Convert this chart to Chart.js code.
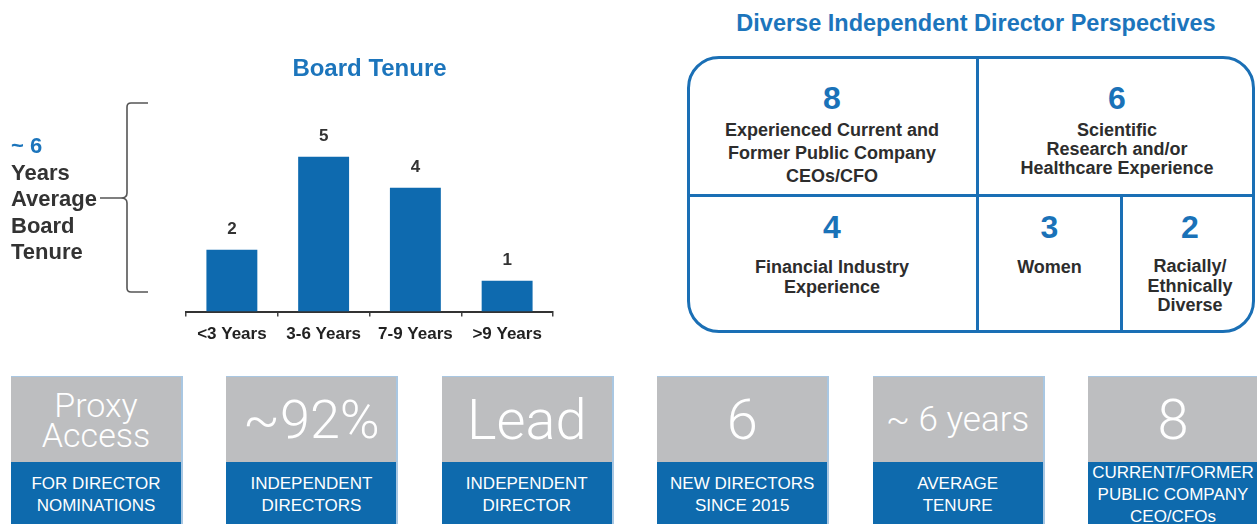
<!DOCTYPE html>
<html>
<head>
<meta charset="utf-8">
<script src="https://cdn.jsdelivr.net/npm/chart.js@4.4.1/dist/chart.umd.min.js"></script>
<style>
    html, body {
        margin: 0;
        padding: 0;
        background: #fff;
    }
    body {
        position: relative;
        width: 1257px;
        height: 524px;
        overflow: hidden;
        font-family: "Liberation Sans", Arial, Helvetica, sans-serif;
        color: #2d2d2d;
    }
    .abs { position: absolute; }
    #tenureWrap {
        position: absolute;
        left: 150px;
        top: 43px;
        width: 446px;
        height: 310px;
    }
    #avgText {
        left: 11px;
        top: 133px;
        font-weight: bold;
        font-size: 22px;
        line-height: 26.5px;
        color: #333;
    }
    #avgText .blue { color: #1c75bc; }
    #perspTitle {
        left: 687px;
        width: 578px;
        top: 10px;
        text-align: center;
        font-weight: bold;
        font-size: 23.5px;
        color: #1c75bc;
    }
    .box {
        left: 687px;
        top: 56px;
        width: 568px;
        height: 277px;
        box-sizing: border-box;
        border: 3px solid #1a6fb5;
        border-radius: 32px;
    }
    .divider { background: #1a6fb5; }
    .cellNum {
        text-align: center;
        font-weight: bold;
        font-size: 32px;
        line-height: 34px;
        color: #1a72b8;
    }
    .cellText {
        text-align: center;
        font-weight: bold;
        font-size: 18px;
        color: #2d2d2d;
    }
    .tile {
        position: absolute;
        top: 376px;
        width: 172px;
        height: 160px;
        box-sizing: border-box;
        border-top: 1px solid #a9c7e2;
        border-right: 2px solid #a9c7e2;
    }
    .tileHead {
        height: 85px;
        background: #bdbec0;
        color: #fff;
        display: flex;
        align-items: center;
        justify-content: center;
        text-align: center;
        white-space: nowrap;
        font-family: Roboto, "Liberation Sans", Arial, sans-serif;
        font-weight: 300;
    }
    .tileCap {
        height: 75px;
        background: #0e6aad;
        color: #fff;
        font-size: 17px;
        line-height: 22px;
        text-align: center;
        white-space: nowrap;
        display: flex;
        flex-direction: column;
        justify-content: flex-start;
        align-items: center;
    }
</style>
</head>
<body>

<div id="tenureWrap"><canvas id="tenureChart"></canvas></div>

<svg class="abs" style="left:0;top:0" width="200" height="320">
    <path d="M148,103 H131 Q127,103 127,107 V193 Q127,198 121,198 H100 M121,198 Q127,198 127,203 V288 Q127,292 131,292 H148"
          fill="none" stroke="#555" stroke-width="1.6"/>
</svg>
<div id="avgText" class="abs"><span class="blue">~ 6</span><br>Years<br>Average<br>Board<br>Tenure</div>

<div id="perspTitle" class="abs">Diverse Independent Director Perspectives</div>
<div class="abs box"></div>
<div class="abs divider" style="left:976px;top:56px;width:3px;height:277px"></div>
<div class="abs divider" style="left:687px;top:194px;width:568px;height:3px"></div>
<div class="abs divider" style="left:1120px;top:194px;width:3px;height:139px"></div>
<div id="cells"></div>

<div id="tiles"></div>

<script>
    // board tenure bar chart
    const tenureLabels = ['<3 Years', '3-6 Years', '7-9 Years', '>9 Years'];
    const tenureCounts = [2, 5, 4, 1];

    // director perspectives box
    const perspNumbers = ['8', '6', '4', '3', '2'];
    const perspTexts = [
        ['Experienced Current and', 'Former Public Company', 'CEOs/CFO'],
        ['Scientific', 'Research and/or', 'Healthcare Experience'],
        ['Financial Industry', 'Experience'],
        ['Women'],
        ['Racially/', 'Ethnically', 'Diverse']
    ];

    // bottom highlight tiles
    const tileHeadlines = [['Proxy', 'Access'], ['~92%'], ['Lead'], ['6'], ['~ 6 years'], ['8']];
    const tileCaptions = [
        ['FOR DIRECTOR', 'NOMINATIONS'],
        ['INDEPENDENT', 'DIRECTORS'],
        ['INDEPENDENT', 'DIRECTOR'],
        ['NEW DIRECTORS', 'SINCE 2015'],
        ['AVERAGE', 'TENURE'],
        ['CURRENT/FORMER', 'PUBLIC COMPANY', 'CEO/CFOs']
    ];

    const FONT = '"Liberation Sans", Arial, Helvetica, sans-serif';

    // layout for the box cells: left, width, number top, text top, line height
    const cellLayout = [
        [687, 290, 81, 118.5, 23],
        [979, 276, 81, 120.5, 19],
        [687, 290, 210, 257, 20],
        [979, 141, 210, 257, 20],
        [1123, 134, 210, 257, 19.5]
    ];
    let cellsHtml = '';
    perspNumbers.forEach((num, i) => {
        let [left, width, numTop, textTop, lh] = cellLayout[i];
        cellsHtml += '<div class="abs cellNum" style="left:' + left + 'px;width:' + width + 'px;top:' + numTop + 'px">' + num + '</div>';
        cellsHtml += '<div class="abs cellText" style="left:' + left + 'px;width:' + width + 'px;top:' + textTop + 'px;line-height:' + lh + 'px">' + perspTexts[i].join('<br>') + '</div>';
    });
    document.getElementById('cells').innerHTML = cellsHtml;

    const headSizes = [34, 54, 56, 56, 35, 56];
    let tilesHtml = '';
    tileHeadlines.forEach((head, i) => {
        let left = 11 + i * 215.4;
        let lh = head.length > 1 ? 30 : 60;
        let capPad = tileCaptions[i].length > 2 ? 0 : 11;
        tilesHtml += '<div class="tile" style="left:' + left + 'px">' +
            '<div class="tileHead" style="font-size:' + headSizes[i] + 'px;line-height:' + lh + 'px">' + head.join('<br>') + '</div>' +
            '<div class="tileCap" style="padding-top:' + capPad + 'px;height:' + (75 - capPad) + 'px">' + tileCaptions[i].map(t => '<div>' + t + '</div>').join('') + '</div>' +
            '</div>';
    });
    document.getElementById('tiles').innerHTML = tilesHtml;

    const valueLabels = {
        id: 'valueLabels',
        afterDatasetsDraw(chart) {
            let ctx = chart.ctx;
            let meta = chart.getDatasetMeta(0);
            ctx.save();
            ctx.font = 'bold 17px ' + FONT;
            ctx.fillStyle = '#333';
            ctx.textAlign = 'center';
            ctx.textBaseline = 'middle';
            meta.data.forEach((bar, i) => {
                ctx.fillText(String(chart.data.datasets[0].data[i]), bar.x, bar.y - 20);
            });
            ctx.restore();
        }
    };

    new Chart(document.getElementById('tenureChart'), {
        type: 'bar',
        data: {
            labels: tenureLabels,
            datasets: [{
                data: tenureCounts,
                backgroundColor: '#0e6aaf',
                borderWidth: 0,
                barPercentage: 0.555,
                categoryPercentage: 1
            }]
        },
        options: {
            responsive: true,
            maintainAspectRatio: false,
            animation: false,
            layout: {
                padding: {left: 36, right: 43, top: 0, bottom: 0}
            },
            scales: {
                y: {
                    display: false,
                    min: 0,
                    max: 6
                },
                x: {
                    grid: {
                        display: true,
                        drawOnChartArea: false,
                        drawTicks: true,
                        tickLength: 5,
                        color: '#444',
                        lineWidth: 1.5
                    },
                    border: {
                        display: true,
                        color: '#333',
                        width: 2
                    },
                    ticks: {
                        color: '#222',
                        padding: 8,
                        font: {family: FONT, size: 17, weight: 'bold'}
                    }
                }
            },
            plugins: {
                legend: {display: false},
                tooltip: {enabled: false},
                title: {
                    display: true,
                    text: 'Board Tenure',
                    color: '#1c75bc',
                    font: {family: FONT, size: 24, weight: 'bold'},
                    padding: {top: 12, bottom: 42}
                }
            }
        },
        plugins: [valueLabels]
    });
</script>
</body>
</html>
